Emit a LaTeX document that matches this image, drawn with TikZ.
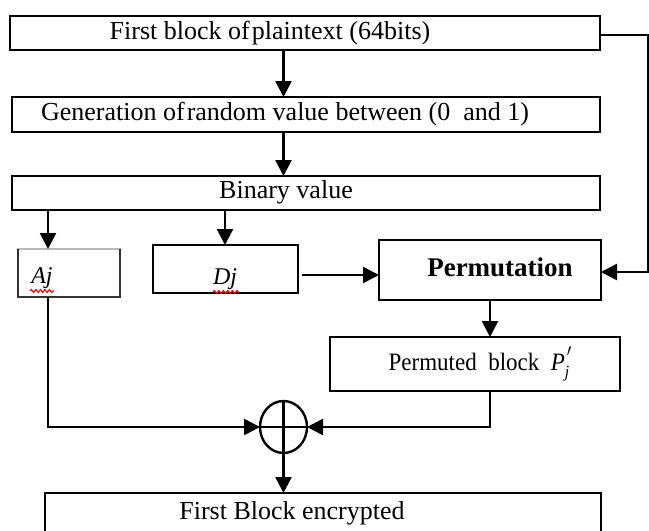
\documentclass[tikz,border=0pt]{standalone}
\usepackage{fontspec}
\setmainfont{Liberation Serif}
\usetikzlibrary{arrows.meta,decorations.pathmorphing,shapes.geometric}
\begin{document}
\begin{tikzpicture}[x=1pt,y=-1pt,
  box/.style={draw=black,line width=2.6pt,inner sep=0pt,outer sep=0pt,
    font=\fontsize{26}{30}\selectfont},
  conn/.style={line width=2.6pt,draw=black},
  arr/.style={conn,-{Triangle[length=16pt,width=16pt]}},
  lbl/.style={font=\fontsize{26}{30}\selectfont},
  squig/.style={red,line width=1.1pt,decorate,
    decoration={snake,amplitude=1.5pt,segment length=4.5pt}}]
\fill[white] (0,0) rectangle (649,531);
\useasboundingbox (0,0) rectangle (649,531);
\clip (0,0) rectangle (649,531);

% boxes
\node[box,minimum width=590pt,minimum height=34pt] (b1) at (305,33) {};
\node[lbl] (t1) at (270,33) {First block of\hspace{0.08em}plaintext (64bits)};
\node[box,minimum width=588pt,minimum height=35pt] (b2) at (306,114.5) {};
\node[lbl] (t2) at (285,114.5) {Generation of\hspace{0.08em}random value between (0\ \ and 1)};
\node[box,minimum width=588pt,minimum height=34pt] (b3) at (306,193) {};
\node[lbl] (t3) at (286,192) {Binary value};

\node[draw=gray!55,line width=1.2pt,minimum width=102pt,minimum height=48pt,inner sep=0pt,outer sep=0pt] (aj) at (69,273) {};
\draw[line width=2.6pt,draw=black!80] (aj.north west) -- (aj.south west) -- (aj.south east) -- (aj.north east);
\node[font=\fontsize{24}{28}\selectfont\itshape] (ajt) at (42,278) {Aj};

\node[box,minimum width=145pt,minimum height=48pt] (dj) at (225.5,269) {};
\node[font=\fontsize{24}{28}\selectfont\itshape] (djt) at (225,279) {Dj};

\node[box,minimum width=222pt,minimum height=60pt] (pm) at (490,270) {};
\node[font=\fontsize{27}{31}\selectfont\bfseries] (pmt) at (500,267) {Permutation};

\node[box,minimum width=290pt,minimum height=54pt] (pb) at (475,364) {};
\node[font=\fontsize{25}{29}\selectfont] (pbt) at (480,364) {\scalebox{0.92}[1]{Permuted\ \ block\ \ \textit{P}\raisebox{-0.3em}{\fontsize{17}{20}\selectfont\textit{j}}\hspace{-0.1em}\raisebox{0.55em}{\fontsize{17}{20}\selectfont$\prime$}}};

\node[draw=black,line width=2.4pt,ellipse,minimum width=47pt,minimum height=52pt,inner sep=0pt,outer sep=0pt] (xo) at (283.5,427) {};
\draw[conn] (xo.north) -- (xo.south);
\draw[conn] (xo.west) -- (xo.east);

\node[box,minimum width=556pt,minimum height=50pt,anchor=north west] (fb) at (45,493) {};
\node[lbl] (fbt) at (292,513) {First Block encrypted};

% squiggles
\draw[squig] (30,291) -- (54,291);
\draw[squig] (213,292) -- (239,292);

% helper coordinates
\coordinate (xa) at (48,0);
\coordinate (xd) at (225,0);
\coordinate (xp) at (490,0);
\coordinate (rx) at (648,0);
\coordinate (y1) at (0,35);
\coordinate (yp) at (0,272);
\coordinate (yd) at (0,275);

% connectors
\draw[arr] (b1.south -| xo.center) -- (b2.north -| xo.center);
\draw[arr] (b2.south -| xo.center) -- (b3.north -| xo.center);
\draw[arr] (b3.south -| xa) -- (aj.north -| xa);
\draw[arr] (b3.south -| xd) -- (dj.north -| xd);
\draw[arr] ([xshift=4pt]dj.east |- yd) -- (pm.west |- yd);
\draw[arr] (b1.east |- y1) -- (rx |- y1) -- (rx |- yp) -- (pm.east |- yp);
\draw[arr] (pm.south -| xp) -- (pb.north -| xp);
\draw[arr] (pb.south -| xp) -- (xp |- xo.center) -- (xo.east);
\draw[arr] (aj.south -| xa) -- (xa |- xo.center) -- (xo.west);
\draw[arr] (xo.south) -- (fb.north -| xo.center);
\end{tikzpicture}
\end{document}
